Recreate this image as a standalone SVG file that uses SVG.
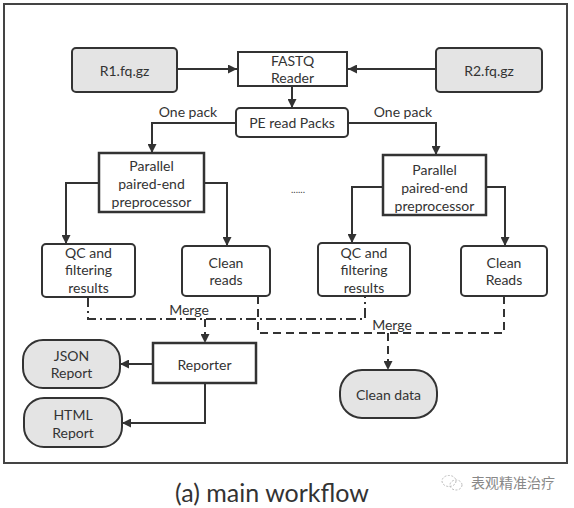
<svg xmlns="http://www.w3.org/2000/svg" width="574" height="508" viewBox="0 0 574 508">
<defs>
<marker id="ah" viewBox="0 0 10 10" refX="10" refY="5" markerUnits="userSpaceOnUse" markerWidth="11" markerHeight="9" orient="auto">
<path d="M0,0 L10,5 L0,10 z" fill="#333"/>
</marker>
<style>
text{font-family:Lato,"Open Sans","Noto Sans",sans-serif;font-size:14px;fill:#333;text-anchor:middle;dominant-baseline:central}
.box{fill:#fff;stroke:#333;stroke-width:2}
.thick{fill:#fff;stroke:#333;stroke-width:2.5}
.gray{fill:#e4e4e4;stroke:#333;stroke-width:2}
.ln{fill:none;stroke:#333;stroke-width:2}
.dd{fill:none;stroke:#333;stroke-width:2;stroke-dasharray:10 4 2 4}
.ds{fill:none;stroke:#333;stroke-width:2;stroke-dasharray:8 5}
</style>
</defs>
<rect width="574" height="508" fill="#fff"/>
<rect id="frame" x="4" y="4" width="563" height="459" fill="none" stroke="#444" stroke-width="2"/>

<g id="connectors">
<path class="ln" d="M177,69 H237" marker-end="url(#ah)"/>
<path class="ln" d="M436,69 H348" marker-end="url(#ah)"/>
<path class="ln" d="M292,86 V108" marker-end="url(#ah)"/>
<path class="ln" d="M236,123 H152 V153" marker-end="url(#ah)"/>
<path class="ln" d="M348,123 H436 V155" marker-end="url(#ah)"/>
<path class="ln" d="M99,183 H66 V244" marker-end="url(#ah)"/>
<path class="ln" d="M204,183 H227 V246" marker-end="url(#ah)"/>
<path class="ln" d="M383,187 H352 V243" marker-end="url(#ah)"/>
<path class="ln" d="M486,187 H505 V246" marker-end="url(#ah)"/>
<path class="dd" d="M88,297 V319 H365 V296"/>
<path class="ds" d="M258,296 V333 H504 V296"/>
<path class="ds" d="M205,319 V343" stroke-dasharray="5 3" marker-end="url(#ah)"/>
<path class="ds" d="M388,333 V370" stroke-dasharray="6 3" marker-end="url(#ah)"/>
<path class="ln" d="M153,364 H120" marker-end="url(#ah)"/>
<path class="ln" d="M205,383 V423 H122" marker-end="url(#ah)"/>
<text x="189" y="309">Merge</text>
<text x="392" y="324">Merge</text>
<text x="188" y="111">One pack</text>
<text x="403" y="111">One pack</text>
</g>

<g id="r1"><rect class="gray" x="72" y="48" width="105" height="44" rx="4"/><text x="124.5" y="70">R1.fq.gz</text></g>
<g id="fastq"><rect class="box" x="238" y="52" width="109" height="34"/><text x="292.5" y="60.5">FASTQ</text><text x="292.5" y="77.5">Reader</text></g>
<g id="r2"><rect class="gray" x="436" y="48" width="106" height="44" rx="4"/><text x="489" y="70">R2.fq.gz</text></g>
<g id="pe"><rect class="box" x="236" y="108" width="112" height="29" rx="4"/><text x="292" y="122">PE read Packs</text></g>
<g id="par1"><rect class="thick" x="99" y="153" width="105" height="59"/><text x="151.5" y="165">Parallel</text><text x="151.5" y="183">paired-end</text><text x="151.5" y="201">preprocessor</text></g>
<g id="par2"><rect class="thick" x="383" y="155" width="103" height="60"/><text x="434.5" y="169">Parallel</text><text x="434.5" y="187">paired-end</text><text x="434.5" y="205">preprocessor</text></g>
<g id="dots"><text x="298" y="189" style="font-size:10px;fill:#444">......</text></g>
<g id="qc1"><rect class="box" x="42" y="244" width="93" height="53" rx="4"/><text x="88.5" y="252">QC and</text><text x="88.5" y="269.5">filtering</text><text x="88.5" y="287">results</text></g>
<g id="clean1"><rect class="box" x="182" y="246" width="88" height="50" rx="4"/><text x="226" y="262">Clean</text><text x="226" y="279">reads</text></g>
<g id="qc2"><rect class="box" x="318" y="243" width="92" height="53" rx="4"/><text x="364" y="252">QC and</text><text x="364" y="269.5">filtering</text><text x="364" y="287">results</text></g>
<g id="clean2"><rect class="box" x="461" y="246" width="86" height="50" rx="4"/><text x="504" y="262">Clean</text><text x="504" y="279">Reads</text></g>
<g id="reporter"><rect class="thick" x="153" y="343" width="103" height="40"/><text x="204.5" y="364">Reporter</text></g>
<g id="json"><rect class="gray" x="23" y="340" width="97" height="48" rx="20"/><text x="71.5" y="355">JSON</text><text x="71.5" y="372">Report</text></g>
<g id="html"><rect class="gray" x="24" y="398" width="98" height="49" rx="20"/><text x="73" y="414">HTML</text><text x="73" y="432">Report</text></g>
<g id="cleandata"><rect class="gray" x="340" y="370" width="97" height="48" rx="22"/><text x="388.5" y="394">Clean data</text></g>

<g id="caption"><text x="272" y="492" style="font-size:25px">(a) main workflow</text></g>
<g id="watermark">
<ellipse cx="449" cy="481" rx="7" ry="5.5" fill="none" stroke="#bbb" stroke-width="1" stroke-dasharray="2 1.5"/>
<ellipse cx="456" cy="485" rx="6" ry="5" fill="none" stroke="#bbb" stroke-width="1" stroke-dasharray="2 1.5"/>
<text x="513" y="482" style="font-family:'Noto Sans CJK SC',sans-serif;font-size:14px;fill:#888">表观精准治疗</text>
</g>
</svg>
